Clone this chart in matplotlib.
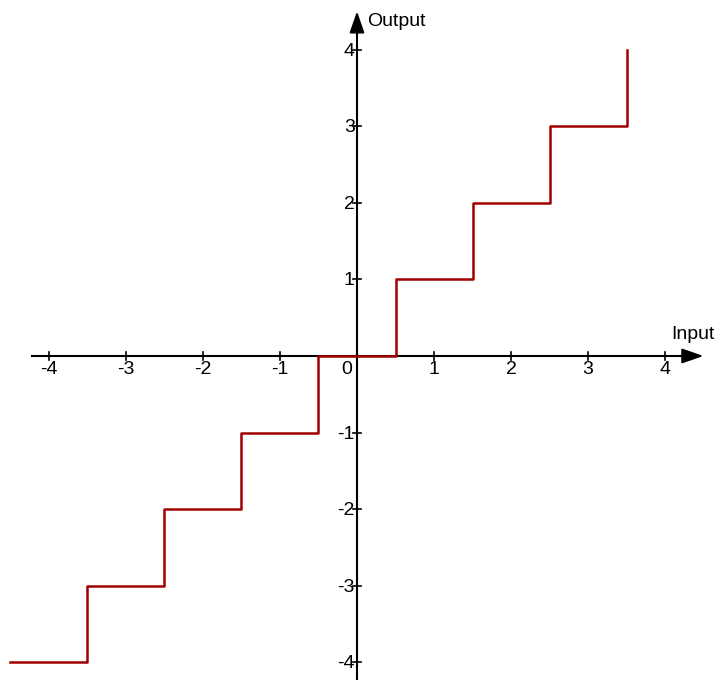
import numpy as np
import matplotlib.pyplot as plt

plt.rcParams['font.family'] = ['Liberation Sans', 'DejaVu Sans']

# staircase (quantizer) data
edges = [-4.5, -3.5, -2.5, -1.5, -0.5, 0.5, 1.5, 2.5, 3.5]
levels = [-4, -3, -2, -1, 0, 1, 2, 3, 4]
ticks = [-4, -3, -2, -1, 1, 2, 3, 4]

fig = plt.figure(figsize=(7.16, 6.8), dpi=100)
ax = fig.add_axes([0, 0, 1, 1])
ax.set_xlim(-4.636, 4.662)
ax.set_ylim(-4.23, 4.647)
ax.axis('off')

# axes with arrows
ax.plot([-4.22, 4.3], [0, 0], color='black', lw=1.5, zorder=2)
ax.plot([0, 0], [-4.5, 4.3], color='black', lw=1.5, zorder=2)
arrow = dict(arrowstyle='-|>,head_length=1.3,head_width=0.45', color='black', lw=1.5,
             shrinkA=0, shrinkB=0)
ax.annotate('', xy=(4.5, 0), xytext=(4.2, 0), arrowprops=arrow)
ax.annotate('', xy=(0, 4.5), xytext=(0, 4.2), arrowprops=arrow)

# tick marks and labels
tl = 0.055
fs = 14
for t in ticks:
    ax.plot([t, t], [-tl, tl], color='black', lw=1.2)
    ax.plot([-tl, tl], [t, t], color='black', lw=1.2)
    ax.text(t, -0.06, str(t), ha='center', va='top', fontsize=fs)
    ax.text(-0.03, t - 0.02, str(t), ha='right', va='center', fontsize=fs)
ax.text(-0.14, -0.06, '0', ha='center', va='top', fontsize=fs)

ax.text(0.13, 4.36, 'Output', ha='left', va='center', fontsize=fs)
ax.text(4.65, 0.28, 'Input', ha='right', va='center', fontsize=fs)

ax.step(edges, levels, where='post', color='#a00000', lw=1.8, zorder=3)

fig.savefig('out.png', dpi=100)
